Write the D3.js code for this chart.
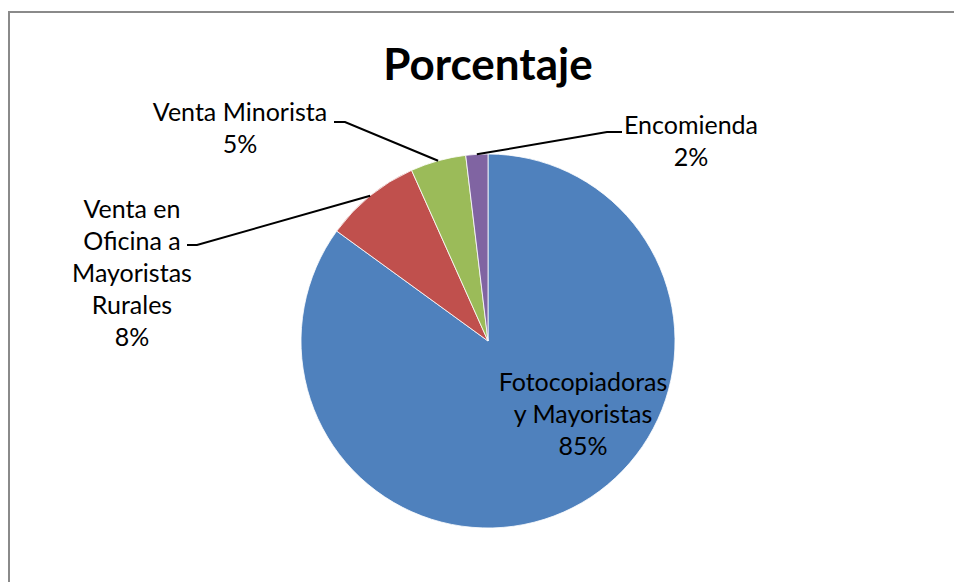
<!DOCTYPE html>
<html>
<head>
<meta charset="utf-8">
<script src="https://cdn.jsdelivr.net/npm/d3@7"></script>
<style>
  html, body { margin: 0; padding: 0; background: #fff; }
  svg { display: block; }
</style>
</head>
<body>
<div id="chart"></div>
<script>
// Data
const categories = [
  'Fotocopiadoras y Mayoristas',
  'Venta en Oficina a Mayoristas Rurales',
  'Venta Minorista',
  'Encomienda',
];
const values = [85, 8.3, 4.8, 1.9];

// label text lines per slice (line breaks as in the reference)
const labelLines = [
  ['Fotocopiadoras', 'y Mayoristas'],
  ['Venta en', 'Oficina a', 'Mayoristas', 'Rurales'],
  ['Venta Minorista'],
  ['Encomienda'],
];

const colors = ['#4F81BD', '#C0504D', '#9BBB59', '#8064A2'];

const W = 954, H = 582;
const CX = 488, CY = 341, R = 187;
const FONT = 'Lato, "Open Sans", sans-serif';
const LINE_H = 32;

// label layout: text centre x, first baseline y, elbow of leader (null = inside)
const labelLayout = [
  { x: 583, y: 391, elbow: null },
  { x: 132, y: 218, elbow: { x1: 197, x2: 187, y: 245 } },
  { x: 240, y: 121, elbow: { x1: 345, x2: 334, y: 122 } },
  { x: 691, y: 134, elbow: { x1: 607, x2: 622, y: 132 } },
];

const svg = d3.select('#chart').append('svg')
  .attr('width', W)
  .attr('height', H);

// chart area border (cut off at right / bottom like the reference)
svg.append('rect')
  .attr('x', 9).attr('y', 12)
  .attr('width', W + 20).attr('height', H + 20)
  .attr('fill', 'none')
  .attr('stroke', '#8a8a8a')
  .attr('stroke-width', 2);

svg.append('text')
  .attr('x', CX)
  .attr('y', 80)
  .attr('text-anchor', 'middle')
  .attr('font-family', FONT)
  .attr('font-weight', 'bold')
  .attr('font-size', 44)
  .attr('fill', '#000')
  .text('Porcentaje');

const pie = d3.pie().sort(null).startAngle(0).endAngle(2 * Math.PI);
const arcs = pie(values);
const arc = d3.arc().innerRadius(0).outerRadius(R);

const g = svg.append('g').attr('transform', `translate(${CX},${CY})`);

g.selectAll('path.slice')
  .data(arcs)
  .join('path')
  .attr('class', 'slice')
  .attr('d', arc)
  .attr('fill', (d, i) => colors[i])
  .attr('stroke', '#fff')
  .attr('stroke-width', 0.8);

const total = d3.sum(values);
const fmt = v => `${Math.round(v / total * 100)}%`;

// Leader lines
arcs.forEach((d, i) => {
  const lay = labelLayout[i];
  if (!lay.elbow) return;
  const mid = (d.startAngle + d.endAngle) / 2;
  const px = CX + R * Math.sin(mid);
  const py = CY - R * Math.cos(mid);
  svg.append('polyline')
    .attr('points', `${px},${py} ${lay.elbow.x1},${lay.elbow.y} ${lay.elbow.x2},${lay.elbow.y}`)
    .attr('fill', 'none')
    .attr('stroke', '#000')
    .attr('stroke-width', 2);
});

// Labels
arcs.forEach((d, i) => {
  const lay = labelLayout[i];
  const lines = [...labelLines[i], fmt(values[i])];
  const t = svg.append('text')
    .attr('text-anchor', 'middle')
    .attr('font-family', FONT)
    .attr('font-size', 25)
    .attr('fill', '#000');
  lines.forEach((s, k) => {
    t.append('tspan')
      .attr('x', lay.x)
      .attr('y', lay.y + k * LINE_H)
      .text(s);
  });
});
</script>
</body>
</html>
